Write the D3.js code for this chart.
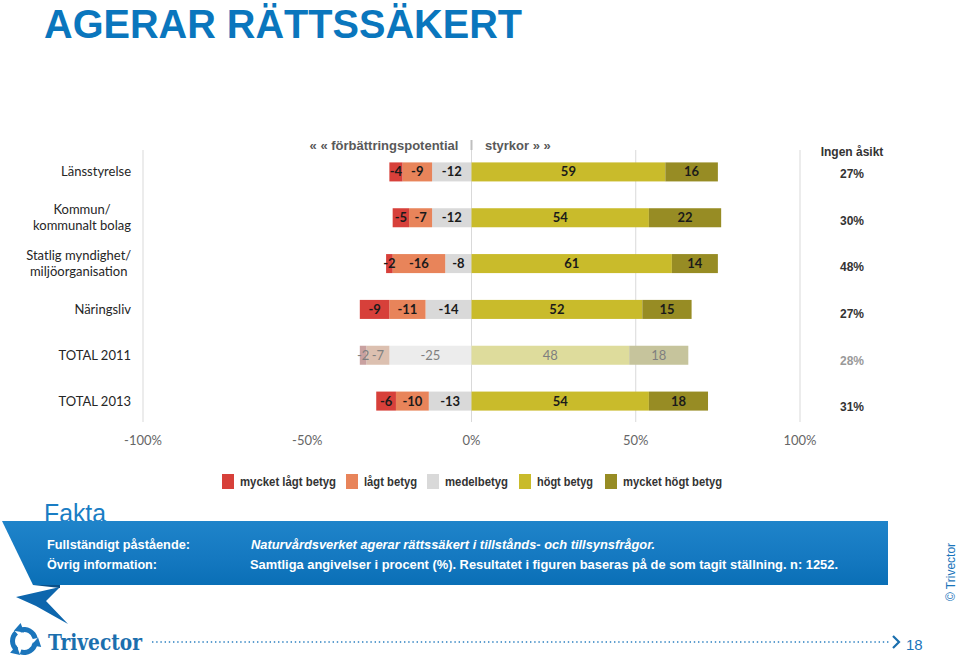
<!DOCTYPE html>
<html><head><meta charset="utf-8">
<script src="https://cdn.jsdelivr.net/npm/d3@7"></script>
<style>html,body{margin:0;padding:0;background:#fff;}svg{display:block;}</style>
</head><body>
<svg id="chart" width="960" height="664"></svg>
<script>
// ---------- DATA ----------
const categories = ["Länsstyrelse", "Kommun/\nkommunalt bolag", "Statlig myndighet/\nmiljöorganisation", "Näringsliv", "TOTAL 2011", "TOTAL 2013"];
const seriesNames = ["mycket lågt betyg", "lågt betyg", "medelbetyg", "högt betyg", "mycket högt betyg"];
const mycketLagt = [-4, -5, -2, -9, -2, -6];
const lagt = [-9, -7, -16, -11, -7, -10];
const medel = [-12, -12, -8, -14, -25, -13];
const hogt = [59, 54, 61, 52, 48, 54];
const mycketHogt = [16, 22, 14, 15, 18, 18];
const ingenAsikt = ["27%", "30%", "48%", "27%", "28%", "31%"];
const tickValues = [-100, -50, 0, 50, 100];
const gridValues = [-100, 0, 50, 100];
const fadedRow = "TOTAL 2011";

// ---------- STYLE ----------
const colors = ["#d7403a", "#e8845a", "#d9d9d9", "#c9bb2b", "#978c24"];
const fadedColors = ["#c9a1a0", "#dcc0b0", "#ececec", "#dedc9c", "#c6c49c"];
const blue = "#0a76bd";
const narrow = "'Liberation Sans Narrow','Arial Narrow','Liberation Sans',Arial,sans-serif";
const arial = "'Liberation Sans',Arial,sans-serif";
const calibri = "Lato,'Open Sans',sans-serif";

const svg = d3.select("#chart");

// Title
svg.append("text").attr("x", 44).attr("y", 38)
  .attr("font-family", arial).attr("font-weight", "bold").attr("font-size", 40)
  .attr("fill", blue).attr("textLength", 478).attr("lengthAdjust", "spacingAndGlyphs")
  .text("AGERAR RÄTTSSÄKERT");

// Scales
const x = d3.scaleLinear().domain([-100, 100]).range([143, 800]);
const y = d3.scaleBand().domain(categories).range([149, 424]).paddingInner(0.585).paddingOuter(0.2925);
const yPct = d3.scaleBand().domain(categories).range([150, 430]).paddingInner(0.5).paddingOuter(0.25);

// Gridlines
svg.append("g").selectAll("line").data(gridValues).join("line")
  .attr("x1", d => x(d)).attr("x2", d => x(d)).attr("y1", 150).attr("y2", 422)
  .attr("stroke", "#d9d9d9").attr("stroke-width", 1);
// header separator
svg.append("line").attr("x1", x(0)).attr("x2", x(0)).attr("y1", 140).attr("y2", 150)
  .attr("stroke", "#bfbfbf").attr("stroke-width", 2);

// Header
svg.append("text").attr("x", 384).attr("y", 150).attr("text-anchor", "middle")
  .attr("font-family", arial).attr("font-weight", "bold").attr("font-size", 13).attr("fill", "#595959")
  .text("« « förbättringspotential");
svg.append("text").attr("x", 485).attr("y", 150)
  .attr("font-family", arial).attr("font-weight", "bold").attr("font-size", 13).attr("fill", "#595959")
  .text("styrkor » »");

// Build stacks
const rows = categories.map((c, i) => {
  const neg = [
    { s: 2, v: medel[i] },
    { s: 1, v: lagt[i] },
    { s: 0, v: mycketLagt[i] }
  ];
  const pos = [
    { s: 3, v: hogt[i] },
    { s: 4, v: mycketHogt[i] }
  ];
  const segs = [];
  let acc = 0;
  neg.forEach(d => { segs.push({ cat: c, s: d.s, v: d.v, x0: acc + d.v, x1: acc }); acc += d.v; });
  acc = 0;
  pos.forEach(d => { segs.push({ cat: c, s: d.s, v: d.v, x0: acc, x1: acc + d.v }); acc += d.v; });
  return segs;
}).flat();

const bars = svg.append("g");
bars.selectAll("rect").data(rows).join("rect")
  .attr("x", d => x(d.x0)).attr("width", d => x(d.x1) - x(d.x0))
  .attr("y", d => y(d.cat)).attr("height", y.bandwidth())
  .attr("fill", d => d.cat === fadedRow ? fadedColors[d.s] : colors[d.s]);
bars.selectAll("text").data(rows).join("text")
  .attr("x", d => (x(d.x0) + x(d.x1)) / 2)
  .attr("y", d => y(d.cat) + y.bandwidth() / 2 + 4.5)
  .attr("text-anchor", "middle")
  .attr("font-family", calibri).attr("font-weight", d => d.cat === fadedRow ? "normal" : "bold")
  .attr("font-size", 13)
  .attr("fill", d => d.cat === fadedRow ? "#7f7f7f" : "#1a1a1a")
  .text(d => d.v);

// Category labels
const catG = svg.append("g");
categories.forEach(c => {
  const lines = c.split("\n");
  const cy = y(c) + y.bandwidth() / 2;
  const t = catG.append("text").attr("font-family", calibri).attr("font-size", 13).attr("fill", "#262626")
    .attr("text-anchor", "middle");
  const tspans = lines.map((l, k) => t.append("tspan").text(l));
  const w = d3.max(tspans, ts => ts.node().getComputedTextLength());
  const cx = 131 - w / 2;
  tspans.forEach((ts, k) => {
    ts.attr("x", cx).attr("y", cy + 4.5 + (k - (lines.length - 1) / 2) * 16);
  });
});

// Axis tick labels
svg.append("g").selectAll("text").data(tickValues).join("text")
  .attr("x", d => x(d)).attr("y", 445).attr("text-anchor", "middle")
  .attr("font-family", calibri).attr("font-size", 13).attr("fill", "#666")
  .text(d => d + "%");

// Ingen åsikt
svg.append("text").attr("x", 852).attr("y", 156).attr("text-anchor", "middle")
  .attr("font-family", arial).attr("font-weight", "bold").attr("font-size", 12).attr("fill", "#333")
  .text("Ingen åsikt");
svg.append("g").selectAll("text").data(categories).join("text")
  .attr("x", 852).attr("y", d => yPct(d) + yPct.bandwidth() / 2 + 4.5).attr("text-anchor", "middle")
  .attr("font-family", arial).attr("font-weight", "bold").attr("font-size", 12)
  .attr("fill", d => d === fadedRow ? "#999" : "#333")
  .text((d, i) => ingenAsikt[i]);

// Legend (layout: box positions and label widths as in the original)
const legX = [222, 346, 427, 519, 605];
const legW = [96, 53, 63, 56, 99];
const leg = svg.append("g");
seriesNames.forEach((n, i) => {
  leg.append("rect").attr("x", legX[i]).attr("y", 474).attr("width", 12).attr("height", 15).attr("fill", colors[i]);
  leg.append("text").attr("x", legX[i] + 18).attr("y", 486)
    .attr("font-family", arial).attr("font-weight", "bold").attr("font-size", 12.5).attr("fill", "#333")
    .attr("textLength", legW[i]).attr("lengthAdjust", "spacingAndGlyphs")
    .text(n);
});

// Fakta ribbon
svg.append("text").attr("x", 44).attr("y", 522)
  .attr("font-family", arial).attr("font-size", 25).attr("fill", "#1a7dc4")
  .attr("textLength", 62).attr("lengthAdjust", "spacingAndGlyphs").text("Fakta");
const defs = svg.append("defs");
const grad = defs.append("linearGradient").attr("id", "bandGrad").attr("x1", 0).attr("x2", 0).attr("y1", 0).attr("y2", 1);
grad.append("stop").attr("offset", "0%").attr("stop-color", "#1f84ca");
grad.append("stop").attr("offset", "60%").attr("stop-color", "#1478c0");
grad.append("stop").attr("offset", "100%").attr("stop-color", "#0a6fb6");
svg.append("polygon").attr("points", "16,597 60,587 46,601 68,624 36,606").attr("fill", "#0d66ad");
svg.append("polygon").attr("points", "33,585 60,585 60,588").attr("fill", "#0a4f88");
svg.append("polygon").attr("points", "2,521 888,521 888,585 33,585").attr("fill", "url(#bandGrad)");

svg.append("text").attr("x", 47).attr("y", 549)
  .attr("font-family", narrow).attr("font-weight", "bold").attr("font-size", 13).attr("fill", "#fff")
  .attr("textLength", 143).attr("lengthAdjust", "spacingAndGlyphs").text("Fullständigt påstående:");
svg.append("text").attr("x", 47).attr("y", 569)
  .attr("font-family", narrow).attr("font-weight", "bold").attr("font-size", 13).attr("fill", "#fff")
  .attr("textLength", 110).attr("lengthAdjust", "spacingAndGlyphs").text("Övrig information:");
svg.append("text").attr("x", 251).attr("y", 549)
  .attr("font-family", narrow).attr("font-weight", "bold").attr("font-style", "italic").attr("font-size", 13).attr("fill", "#fff")
  .attr("textLength", 404).attr("lengthAdjust", "spacingAndGlyphs").text("Naturvårdsverket agerar rättssäkert i tillstånds- och tillsynsfrågor.");
svg.append("text").attr("x", 250).attr("y", 569)
  .attr("font-family", narrow).attr("font-weight", "bold").attr("font-size", 13).attr("fill", "#fff")
  .attr("textLength", 588).attr("lengthAdjust", "spacingAndGlyphs").text("Samtliga angivelser i procent (%). Resultatet i figuren baseras på de som tagit ställning. n: 1252.");

// © Trivector rotated
svg.append("text").attr("transform", "translate(955,572) rotate(-90)").attr("text-anchor", "middle")
  .attr("font-family", arial).attr("font-size", 12).attr("fill", "#1a75bb").text("© Trivector");

// Footer logo icon
const logo = svg.append("g").attr("transform", "translate(24,641)").attr("fill", "#1b75bb");
[0, 120, 240].forEach(a => {
  const g = logo.append("g").attr("transform", `rotate(${a})`);
  g.append("path").attr("d", d3.arc()({ innerRadius: 9, outerRadius: 14, startAngle: -0.35, endAngle: 1.35 }));
  g.append("path").attr("d", "M 13.2 -6 L 18 3 L 8 3 Z").attr("transform", "rotate(10)");
});
svg.append("text").attr("x", 48).attr("y", 650)
  .attr("font-family", "'DejaVu Serif',serif").attr("font-weight", "bold").attr("font-size", 22).attr("fill", "#1b6fae")
  .attr("textLength", 94).attr("lengthAdjust", "spacingAndGlyphs").text("Trivector");
svg.append("line").attr("x1", 152).attr("x2", 890).attr("y1", 642).attr("y2", 642)
  .attr("stroke", "#2a7fc0").attr("stroke-width", 1.4).attr("stroke-dasharray", "1.4,2.8");
svg.append("path").attr("d", "M 893 636 L 899 642 L 893 648").attr("fill", "none")
  .attr("stroke", "#1b6fae").attr("stroke-width", 2.2);
svg.append("text").attr("x", 906).attr("y", 650)
  .attr("font-family", narrow).attr("font-size", 15).attr("fill", "#1b75bb").text("18");
</script>
</body></html>
